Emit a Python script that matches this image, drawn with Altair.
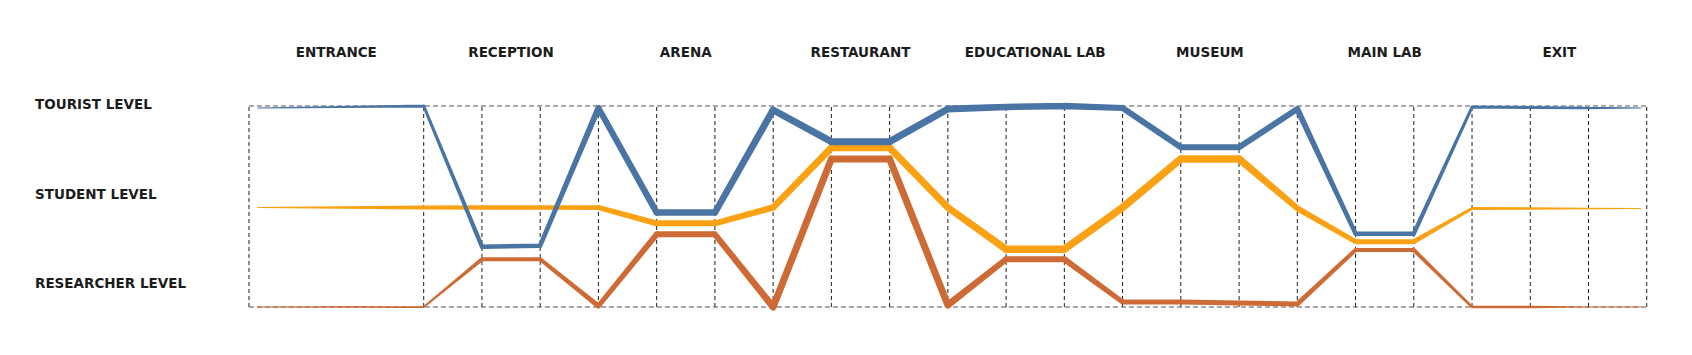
import altair as alt
import pandas as pd

# ---- data ----
sections = ["ENTRANCE", "RECEPTION", "ARENA", "RESTAURANT",
            "EDUCATIONAL LAB", "MUSEUM", "MAIN LAB", "EXIT"]
section_centers = [1.5, 4.5, 7.5, 10.5, 13.5, 16.5, 19.5, 22.5]

levels = ["TOURIST LEVEL", "STUDENT LEVEL", "RESEARCHER LEVEL"]
level_label_y = [2.01, 1.11, 0.23]

stops = [0.15, 3, 4, 5, 6, 7, 8, 9, 10, 11, 12, 13, 14, 15, 16, 17, 18, 19, 20, 21, 22, 23, 23.9]

tourist = [1.98, 2.00, 0.60, 0.61, 1.98, 0.94, 0.94, 1.96, 1.645, 1.645, 1.97, 1.99,
           2.00, 1.98, 1.59, 1.59, 1.97, 0.73, 0.73, 1.99, 1.985, 1.98, 1.98]
student = [0.99, 0.99, 0.99, 0.99, 0.99, 0.833, 0.833, 0.99, 1.585, 1.585, 0.99, 0.574,
           0.574, 0.99, 1.473, 1.473, 0.982, 0.65, 0.65, 0.98, 0.98, 0.98, 0.98]
researcher = [0.0, 0.0, 0.475, 0.475, 0.01, 0.723, 0.723, 0.0, 1.473, 1.473, 0.02, 0.475,
              0.475, 0.05, 0.05, 0.04, 0.03, 0.567, 0.567, 0.0, 0.0, 0.0, 0.0]

tourist_w = [0, 3, 4.5, 4.5, 6, 6.5, 6.5, 7, 7, 7, 7, 6.5, 6.5, 6, 6, 6, 6, 4.5, 4.5, 3, 3, 2.5, 0]
student_w = [0, 4, 4.5, 4.5, 5, 6, 6, 6.5, 7, 7, 7, 7.5, 7.5, 7.5, 7.5, 7.5, 6, 5, 5, 3, 2.5, 1.5, 0]
researcher_w = [0, 2, 4, 4, 5, 6, 6, 7, 7, 7, 7, 6, 6, 5, 5, 5, 5, 4, 4, 2.5, 2.5, 1, 0]

series_names = ["Researcher", "Student", "Tourist"]
series_colors = ["#cd6a35", "#fba114", "#4a74a3"]

grid_x = [0, 3, 4, 5, 6, 7, 8, 9, 10, 11, 12, 13, 14, 15, 16, 17, 18, 19, 20, 21, 22, 23, 24]
grid_y = [0, 2]

# ---- tables ----
rows = []
for name, ys_, ws in [("Researcher", researcher, researcher_w),
                      ("Student", student, student_w),
                      ("Tourist", tourist, tourist_w)]:
    for i, (x, y, w) in enumerate(zip(stops, ys_, ws)):
        rows.append({"series": name, "x": x, "y": y, "w": w, "i": i})
lines_df = pd.DataFrame(rows)

vgrid = pd.DataFrame({"x": grid_x, "y0": 0, "y1": 2})
hgrid = pd.DataFrame({"y": grid_y, "x0": 0, "x1": 24})
sec_df = pd.DataFrame({"label": sections, "x": section_centers, "y": 2.532})
lev_df = pd.DataFrame({"label": levels, "x": -3.674, "y": level_label_y})

xs = alt.Scale(domain=[-4.275, 24.777], nice=False, zero=False)
ys = alt.Scale(domain=[-0.4776, 3.0547], nice=False, zero=False)

vrules = alt.Chart(vgrid).mark_rule(color="#1e1e1e", strokeDash=[4, 3], strokeWidth=1).encode(
    x=alt.X("x:Q", scale=xs, axis=None),
    y=alt.Y("y0:Q", scale=ys, axis=None),
    y2="y1:Q",
)
hrules = alt.Chart(hgrid).mark_rule(color="#555555", strokeDash=[5, 3], strokeWidth=1).encode(
    x=alt.X("x0:Q", scale=xs, axis=None),
    x2="x1:Q",
    y=alt.Y("y:Q", scale=ys, axis=None),
)

trails = alt.Chart(lines_df).mark_trail().encode(
    x=alt.X("x:Q", scale=xs, axis=None),
    y=alt.Y("y:Q", scale=ys, axis=None),
    size=alt.Size("w:Q", scale=None, legend=None),
    color=alt.Color("series:N", scale=alt.Scale(domain=series_names, range=series_colors), legend=None),
    detail="series:N",
    order="i:Q",
)

font = "DejaVu Sans"
sec_text = alt.Chart(sec_df).mark_text(font=font, fontWeight="bold", fontSize=13.5,
                                       color="#1c1c1c", align="center", baseline="middle").encode(
    x=alt.X("x:Q", scale=xs, axis=None),
    y=alt.Y("y:Q", scale=ys, axis=None),
    text="label:N",
)
lev_text = alt.Chart(lev_df).mark_text(font=font, fontWeight="bold", fontSize=13.5,
                                       color="#1c1c1c", align="left", baseline="middle").encode(
    x=alt.X("x:Q", scale=xs, axis=None),
    y=alt.Y("y:Q", scale=ys, axis=None),
    text="label:N",
)

chart = alt.layer(vrules, hrules, trails, sec_text, lev_text).properties(
    width=1692, height=355,
    autosize=alt.AutoSizeParams(type="none"),
    padding=0,
    background="white",
).configure_view(stroke=None)

chart.save("out.html", embed_options={"renderer": "svg", "actions": False})
